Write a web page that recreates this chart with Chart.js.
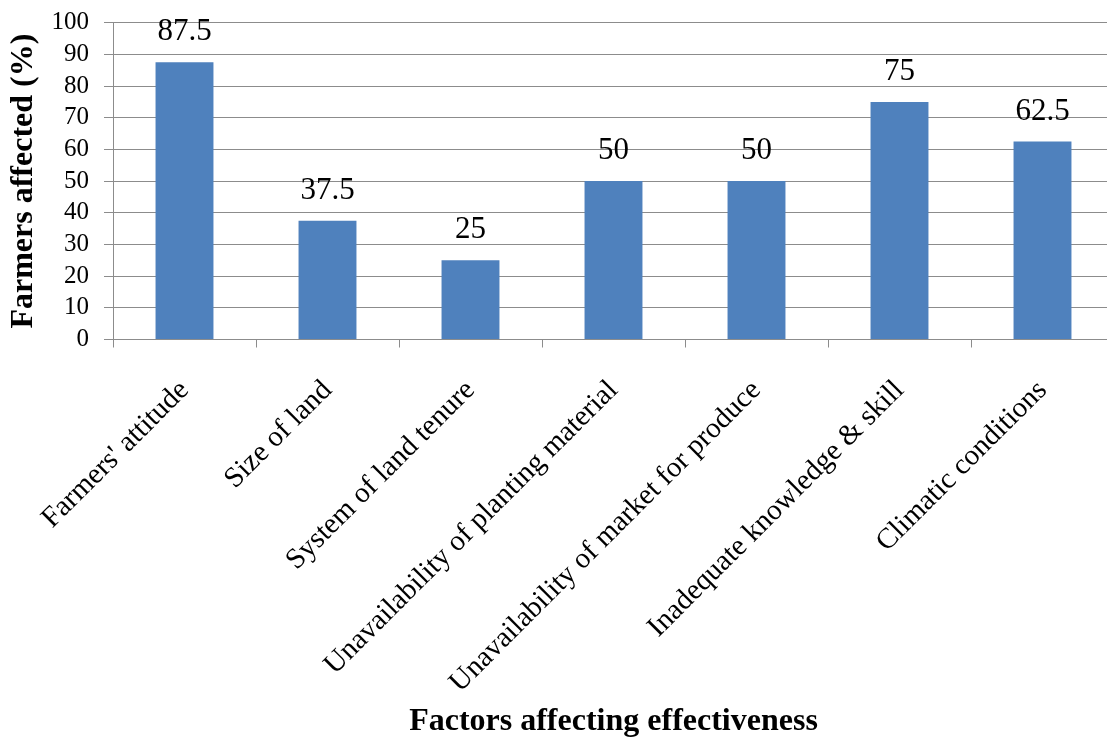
<!DOCTYPE html>
<html>
<head>
<meta charset="utf-8">
<script src="https://cdn.jsdelivr.net/npm/chart.js@4.4.0/dist/chart.umd.min.js"></script>
<style>
  html, body { margin: 0; padding: 0; background: #ffffff; overflow: hidden; }
  #wrap { width: 1107px; height: 742px; overflow: hidden; }
  canvas { display: block; }
</style>
</head>
<body>
<div id="wrap"><canvas id="chart" width="1114" height="742"></canvas></div>
<script>
// Factors and the share of farmers affected by each (%)
const factors = [
  "Farmers' attitude",
  "Size of land",
  "System of land tenure",
  "Unavailability of planting material",
  "Unavailability of market for produce",
  "Inadequate knowledge & skill",
  "Climatic conditions"
];
const farmersAffected = [87.5, 37.5, 25, 50, 50, 75, 62.5];
const yTicks = [0, 10, 20, 30, 40, 50, 60, 70, 80, 90, 100];

const SERIF = "'Liberation Serif', 'Times New Roman', serif";
const GRID = '#8c8c8c';

// Value labels above each bar
const valueLabels = {
  id: 'valueLabels',
  afterDatasetsDraw(chart) {
    const { ctx } = chart;
    const meta = chart.getDatasetMeta(0);
    ctx.save();
    ctx.font = '31px ' + SERIF;
    ctx.fillStyle = '#000000';
    ctx.textAlign = 'center';
    ctx.textBaseline = 'alphabetic';
    meta.data.forEach((bar, i) => {
      ctx.fillText(String(chart.data.datasets[0].data[i]), bar.x, bar.y - 22);
    });
    ctx.restore();
  }
};

new Chart(document.getElementById('chart'), {
  type: 'bar',
  data: {
    labels: factors,
    datasets: [{
      data: farmersAffected,
      backgroundColor: '#4f81bd',
      borderWidth: 0,
      barPercentage: 0.405,
      categoryPercentage: 1.0
    }]
  },
  options: {
    responsive: false,
    animation: false,
    devicePixelRatio: 1,
    layout: { padding: { top: 22.7, right: 0, bottom: 0, left: 0 } },
    plugins: {
      legend: { display: false },
      tooltip: { enabled: false }
    },
    scales: {
      x: {
        grid: {
          display: true,
          drawOnChartArea: false,
          drawTicks: true,
          tickLength: 8,
          color: GRID,
          offset: true
        },
        border: { display: true, color: GRID, width: 1 },
        ticks: {
          autoSkip: false,
          minRotation: 45,
          maxRotation: 45,
          padding: 26,
          color: '#000000',
          font: { family: SERIF, size: 29 }
        },
        title: {
          display: true,
          text: 'Factors affecting effectiveness',
          color: '#000000',
          font: { family: SERIF, size: 32, weight: 'bold' },
          padding: { top: 0, bottom: 1 }
        },
        afterFit(scale) {
          scale.height = 742 - 339.5;
          scale.paddingLeft = 0;
          scale.paddingRight = 0;
        }
      },
      y: {
        min: 0,
        max: 100,
        afterBuildTicks(scale) { scale.ticks = yTicks.map(v => ({ value: v })); },
        grid: {
          display: true,
          drawOnChartArea: true,
          drawTicks: true,
          tickLength: 9,
          color: GRID,
          lineWidth: 1
        },
        border: { display: true, color: GRID, width: 1 },
        ticks: {
          autoSkip: false,
          padding: 15,
          color: '#000000',
          font: { family: SERIF, size: 25 }
        },
        title: {
          display: true,
          text: 'Farmers affected (%)',
          color: '#000000',
          font: { family: SERIF, size: 32, weight: 'bold' },
          padding: { top: 5, bottom: 0 }
        },
        afterFit(scale) {
          scale.width = 113;
          scale.paddingTop = 0;
          scale.paddingBottom = 0;
        }
      }
    }
  },
  plugins: [valueLabels]
});
</script>
</body>
</html>
